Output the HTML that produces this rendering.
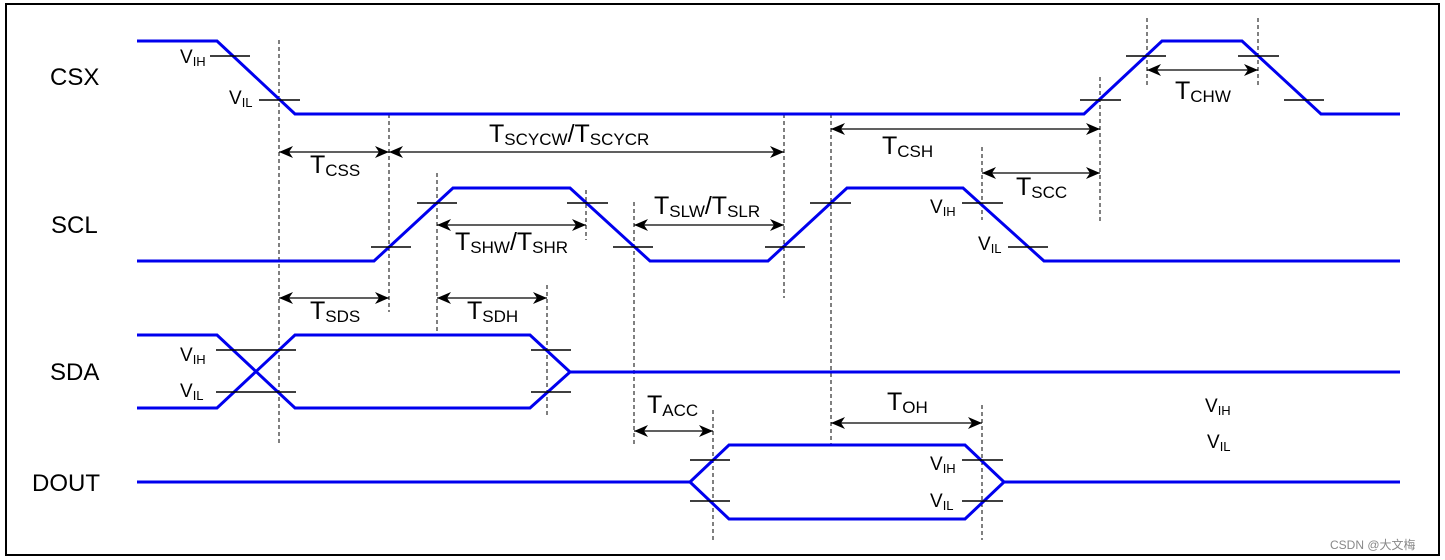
<!DOCTYPE html>
<html><head><meta charset="utf-8"><style>html,body{margin:0;padding:0;background:#fff}svg{display:block}text{font-family:"Liberation Sans",Arial,sans-serif;fill:#000}</style></head><body>
<svg width="1445" height="560" viewBox="0 0 1445 560" xmlns="http://www.w3.org/2000/svg">
<defs>
<marker id="a" viewBox="0 0 14 12" refX="14" refY="6" markerWidth="14" markerHeight="12" markerUnits="userSpaceOnUse" orient="auto-start-reverse"><path d="M0,0 L14,6 L0,12 L4,6 Z" fill="#000"/></marker>
</defs>
<rect x="6" y="4" width="1433" height="551" fill="none" stroke="#000" stroke-width="2"/>
<g stroke="#000" stroke-width="1" stroke-dasharray="4,3" fill="none">
<line x1="279" y1="40" x2="279" y2="445"/>
<line x1="389" y1="114" x2="389" y2="312"/>
<line x1="784" y1="114" x2="784" y2="298"/>
<line x1="831" y1="114" x2="831" y2="445"/>
<line x1="1100" y1="77" x2="1100" y2="224"/>
<line x1="1147" y1="18" x2="1147" y2="88"/>
<line x1="1258" y1="18" x2="1258" y2="88"/>
<line x1="437" y1="173" x2="437" y2="335"/>
<line x1="586" y1="190" x2="586" y2="240"/>
<line x1="634" y1="202" x2="634" y2="445"/>
<line x1="547" y1="285" x2="547" y2="415"/>
<line x1="982" y1="147" x2="982" y2="220"/>
<line x1="982" y1="405" x2="982" y2="540"/>
<line x1="713" y1="410" x2="713" y2="540"/>
</g>
<g stroke="#000" stroke-width="1.3" fill="none" marker-start="url(#a)" marker-end="url(#a)">
<line x1="279" y1="152" x2="389" y2="152"/>
<line x1="389" y1="152" x2="784" y2="152"/>
<line x1="437" y1="225" x2="586" y2="225"/>
<line x1="634" y1="225" x2="784" y2="225"/>
<line x1="831" y1="129" x2="1100" y2="129"/>
<line x1="982" y1="173" x2="1100" y2="173"/>
<line x1="1147" y1="70" x2="1258" y2="70"/>
<line x1="279" y1="298" x2="389" y2="298"/>
<line x1="437" y1="298" x2="547" y2="298"/>
<line x1="634" y1="431" x2="713" y2="431"/>
<line x1="831" y1="423" x2="982" y2="423"/>
</g>
<g stroke="#0000ee" stroke-width="3" fill="none" stroke-linejoin="miter">
<polyline points="137,41 217,41 295,114 1084,114 1162,41 1242,41 1321,114 1400,114"/>
<polyline points="137,261 374,261 453,188 570,188 650,261 768,261 847,188 963,188 1044,261 1400,261"/>
<polyline points="137,335 217,335 295,408 530,408 570,372 1400,372"/>
<polyline points="137,408 217,408 295,335 530,335 570,372"/>
<polyline points="137,482 690,482 729,445 965,445 1004,482 1400,482"/>
<polyline points="690,482 729,519 965,519 1004,482"/>
</g>
<g stroke="#000" stroke-width="1.5">
<line x1="210" y1="56" x2="250" y2="56"/><line x1="259" y1="100" x2="300" y2="100"/>
<line x1="1080" y1="100" x2="1121" y2="100"/><line x1="1126" y1="56" x2="1166" y2="56"/>
<line x1="1238" y1="56" x2="1279" y2="56"/><line x1="1284" y1="100" x2="1324" y2="100"/>
<line x1="371" y1="247" x2="411" y2="247"/><line x1="417" y1="203" x2="457" y2="203"/>
<line x1="567" y1="203" x2="608" y2="203"/><line x1="613" y1="247" x2="653" y2="247"/>
<line x1="765" y1="247" x2="805" y2="247"/><line x1="810" y1="203" x2="851" y2="203"/>
<line x1="962" y1="203" x2="1003" y2="203"/><line x1="1008" y1="247" x2="1048" y2="247"/>
<line x1="216" y1="350" x2="296" y2="350"/><line x1="216" y1="392" x2="296" y2="392"/>
<line x1="531" y1="350" x2="571" y2="350"/><line x1="531" y1="392" x2="571" y2="392"/>
<line x1="690" y1="460" x2="730" y2="460"/><line x1="690" y1="501" x2="730" y2="501"/>
<line x1="962" y1="460" x2="1003" y2="460"/><line x1="962" y1="501" x2="1003" y2="501"/>
</g>
<g font-size="24">
<text x="50" y="85">CSX</text>
<text x="51" y="233">SCL</text>
<text x="50" y="380">SDA</text>
<text x="32" y="491">DOUT</text>
</g>
<g font-size="25">
<text x="489" y="142">T<tspan font-size="17" dy="3">SCYCW</tspan><tspan dy="-3">/T</tspan><tspan font-size="17" dy="3">SCYCR</tspan></text>
<text x="310" y="173">T<tspan font-size="17" dy="3">CSS</tspan></text>
<text x="455" y="250">T<tspan font-size="17" dy="3">SHW</tspan><tspan dy="-3">/T</tspan><tspan font-size="17" dy="3">SHR</tspan></text>
<text x="654" y="214">T<tspan font-size="17" dy="3">SLW</tspan><tspan dy="-3">/T</tspan><tspan font-size="17" dy="3">SLR</tspan></text>
<text x="882" y="154">T<tspan font-size="17" dy="3">CSH</tspan></text>
<text x="1016" y="195">T<tspan font-size="17" dy="3">SCC</tspan></text>
<text x="1175" y="99">T<tspan font-size="17" dy="3">CHW</tspan></text>
<text x="310" y="319">T<tspan font-size="17" dy="3">SDS</tspan></text>
<text x="467" y="319">T<tspan font-size="17" dy="3">SDH</tspan></text>
<text x="647" y="413">T<tspan font-size="17" dy="3">ACC</tspan></text>
<text x="887" y="410">T<tspan font-size="17" dy="3">OH</tspan></text>
</g>
<g font-size="19">
<text x="180" y="63">V<tspan font-size="13" dy="3">IH</tspan></text>
<text x="229" y="104">V<tspan font-size="13" dy="3">IL</tspan></text>
<text x="930" y="213">V<tspan font-size="13" dy="3">IH</tspan></text>
<text x="978" y="250">V<tspan font-size="13" dy="3">IL</tspan></text>
<text x="180" y="361">V<tspan font-size="13" dy="3">IH</tspan></text>
<text x="180" y="397">V<tspan font-size="13" dy="3">IL</tspan></text>
<text x="1205" y="412">V<tspan font-size="13" dy="3">IH</tspan></text>
<text x="1207" y="448">V<tspan font-size="13" dy="3">IL</tspan></text>
<text x="930" y="470">V<tspan font-size="13" dy="3">IH</tspan></text>
<text x="930" y="507">V<tspan font-size="13" dy="3">IL</tspan></text>
</g>
<text x="1330" y="549" font-size="12" style="fill:#888;font-family:'Liberation Sans','Noto Sans CJK SC',sans-serif">CSDN @大文梅</text>
</svg>
</body></html>
